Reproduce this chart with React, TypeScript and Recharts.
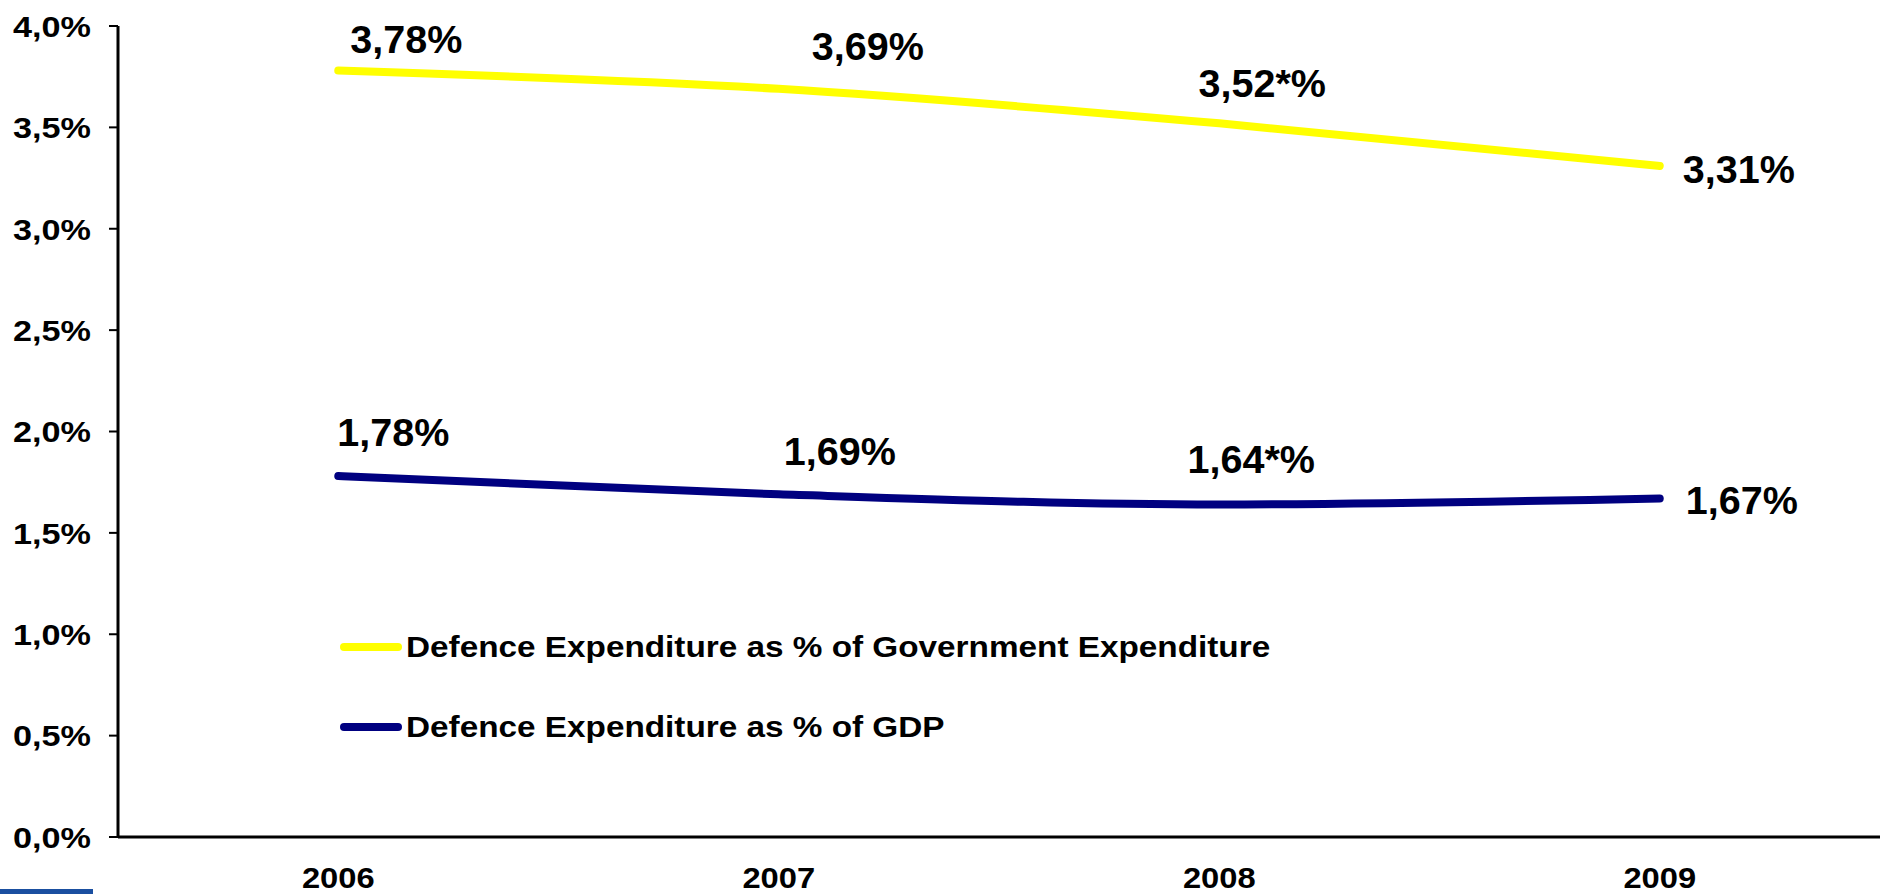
import React from 'react';
import { LineChart, Line, XAxis, YAxis, LabelList, Legend } from 'recharts';

const years = ['2006', '2007', '2008', '2009'];
const govExpShare = [3.78, 3.69, 3.52, 3.31];
const gdpShare = [1.78, 1.69, 1.64, 1.67];
const govLabels = ['3,78%', '3,69%', '3,52*%', '3,31%'];
const gdpLabels = ['1,78%', '1,69%', '1,64*%', '1,67%'];
const yTicks = [0, 0.5, 1, 1.5, 2, 2.5, 3, 3.5, 4];
const bandTicks = [0, 1, 2, 3, 4];
const govName = 'Defence Expenditure as % of Government Expenditure';
const gdpName = 'Defence Expenditure as % of GDP';
const legendOrder = [govName, gdpName];

// label placement (style, not data)
const govLabelOffsets = [[68, -31], [89, -43], [43, -40], [79, 3]];
const gdpLabelOffsets = [[55, -44], [61, -43], [32, -45], [82, 2]];

const FONT = '"Liberation Sans", Arial, Helvetica, sans-serif';
const YELLOW = '#FFFF00';
const NAVY = '#000080';

const data = years.map((year, i) => ({
  pos: i + 0.5,
  year,
  gov: govExpShare[i],
  gdp: gdpShare[i],
  govLabel: govLabels[i],
  gdpLabel: gdpLabels[i],
}));

const makeLabel = (offsets: number[][]) => (props: any) => {
  const { x, y, value, index } = props;
  const [dx, dy] = offsets[index] || [0, 0];
  return (
    <text
      transform={`translate(${x + dx},${y + dy}) scale(1.04,1)`}
      x={0}
      y={0}
      dy="0.36em"
      textAnchor="middle"
      fontFamily={FONT}
      fontWeight="bold"
      fontSize={38}
      fill="#000"
    >
      {value}
    </text>
  );
};

const YTick = (props: any) => {
  const { x, y, payload } = props;
  const label = Number(payload.value).toFixed(1).replace('.', ',') + '%';
  return (
    <text
      transform={`translate(${x},${y}) scale(1.14,1)`}
      x={0}
      y={0}
      dy="0.36em"
      textAnchor="end"
      fontFamily={FONT}
      fontWeight="bold"
      fontSize={30}
      fill="#000"
    >
      {label}
    </text>
  );
};

const XTick = (props: any) => {
  const { x, y, payload } = props;
  const label = years[Math.floor(payload.value)];
  return (
    <text
      transform={`translate(${x},${y}) scale(1.09,1)`}
      x={0}
      y={0}
      dy="0.71em"
      textAnchor="middle"
      fontFamily={FONT}
      fontWeight="bold"
      fontSize={30}
      fill="#000"
    >
      {label}
    </text>
  );
};

const renderLegend = (props: any) => {
  const payload: any[] = props.payload || [];
  const ordered = legendOrder
    .map((name) => payload.find((p: any) => p.value === name))
    .filter(Boolean);
  return (
    <div style={{ fontFamily: FONT }}>
      {ordered.map((entry: any, i: number) => (
        <div
          key={i}
          style={{
            display: 'flex',
            alignItems: 'center',
            height: 44,
            marginBottom: 36,
          }}
        >
          <svg width={62} height={12} style={{ display: 'block' }}>
            <line
              x1={4}
              y1={6}
              x2={58}
              y2={6}
              stroke={entry.color}
              strokeWidth={8}
              strokeLinecap="round"
            />
          </svg>
          <span
            style={{
              display: 'inline-block',
              marginLeft: 4,
              fontSize: 30,
              fontWeight: 'bold',
              color: '#000',
              whiteSpace: 'nowrap',
              transform: 'scaleX(1.11)',
              transformOrigin: 'left center',
            }}
          >
            {entry.value}
          </span>
        </div>
      ))}
    </div>
  );
};

export default function App() {
  return (
    <div style={{ position: 'absolute', left: 0, top: 0, width: 1885, height: 894, background: '#fff' }}>
      <LineChart
        width={1885}
        height={894}
        data={data}
        margin={{ top: 26, right: 5, bottom: 0, left: 0 }}
      >
        <YAxis
          type="number"
          domain={[0, 4]}
          ticks={yTicks}
          width={118}
          tickSize={9}
          tickMargin={18}
          axisLine={{ stroke: '#000', strokeWidth: 3 }}
          tickLine={{ stroke: '#000', strokeWidth: 2 }}
          tick={<YTick />}
        />
        <XAxis
          xAxisId="band"
          dataKey="pos"
          type="number"
          domain={[0, 4]}
          ticks={bandTicks}
          height={12}
          tickSize={10}
          tick={false}
          axisLine={{ stroke: '#000', strokeWidth: 3 }}
          tickLine={{ stroke: '#000', strokeWidth: 2 }}
        />
        <XAxis
          xAxisId="label"
          dataKey="pos"
          type="number"
          domain={[0, 4]}
          ticks={data.map((d) => d.pos)}
          height={45}
          tickSize={0}
          tickMargin={18}
          axisLine={false}
          tickLine={false}
          tick={<XTick />}
        />
        <Legend
          content={renderLegend}
          layout="vertical"
          verticalAlign="middle"
          align="center"
          wrapperStyle={{ left: 340, top: 625, width: 1100 }}
        />
        <Line
          xAxisId="label"
          type="monotone"
          dataKey="gov"
          name={govName}
          stroke={YELLOW}
          strokeWidth={8}
          strokeLinecap="round"
          dot={false}
          activeDot={false}
          isAnimationActive={false}
        >
          <LabelList dataKey="govLabel" content={makeLabel(govLabelOffsets)} />
        </Line>
        <Line
          xAxisId="label"
          type="monotone"
          dataKey="gdp"
          name={gdpName}
          stroke={NAVY}
          strokeWidth={8}
          strokeLinecap="round"
          dot={false}
          activeDot={false}
          isAnimationActive={false}
        >
          <LabelList dataKey="gdpLabel" content={makeLabel(gdpLabelOffsets)} />
        </Line>
      </LineChart>
      <div
        style={{
          position: 'absolute',
          left: 0,
          top: 889,
          width: 93,
          height: 5,
          background: '#1a4fa0',
        }}
      />
    </div>
  );
}
